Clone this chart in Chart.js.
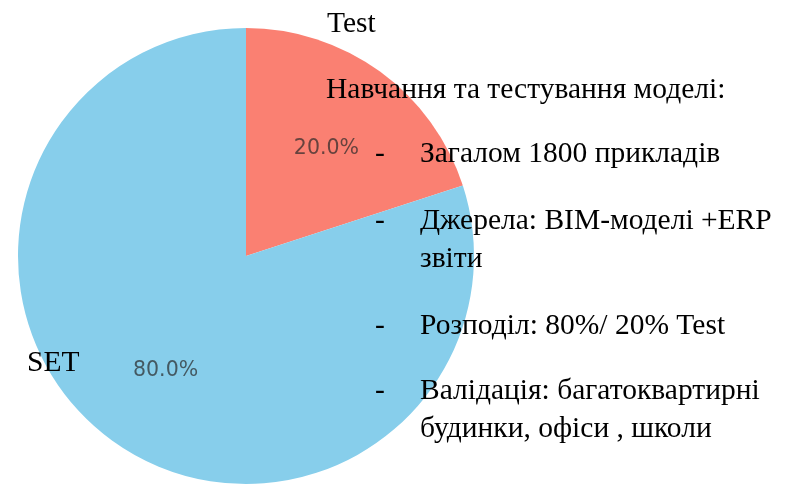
<!DOCTYPE html>
<html>
<head>
<meta charset="utf-8">
<script src="https://cdn.jsdelivr.net/npm/chart.js@4"></script>
<style>
  html, body { margin: 0; padding: 0; background: #fff; }
  #wrap { position: relative; width: 785px; height: 486px; overflow: hidden; }
  #wrap canvas { position: absolute; left: 0; top: 0; }
  .txt {
    position: absolute;
    font-family: 'Liberation Serif', 'Times New Roman', serif;
    font-size: 29.5px;
    line-height: 29.5px;
    color: #000;
    white-space: nowrap;
  }
</style>
</head>
<body>
<div id="wrap">
  <canvas id="pie" width="785" height="486"></canvas>
</div>
<script>
// дані діаграми
const categories = ['Test', 'SET'];
const shares = [20, 80];
const sliceColors = ['#FA8072', '#87CEEB'];

// текст праворуч
const heading = 'Навчання та тестування моделі:';
const bullets = [
  ['Загалом 1800 прикладів'],
  ['Джерела: BIM-моделі +ERP', 'звіти'],
  ['Розподіл: 80%/ 20% Test'],
  ['Валідація: багатоквартирні', 'будинки, офіси , школи']
];

const wrap = document.getElementById('wrap');

function addText(str, left, top) {
  const d = document.createElement('div');
  d.className = 'txt';
  d.style.left = left + 'px';
  d.style.top = top + 'px';
  d.textContent = str;
  wrap.appendChild(d);
}

// підписи категорій
const labelSpots = [[327, 8], [27, 347]];
categories.forEach((c, i) => addText(c, labelSpots[i][0], labelSpots[i][1]));

// блок тексту
addText(heading, 326, 74);
const bulletTops = [138, 205, 310, 375];
bullets.forEach((lines, i) => {
  addText('-', 375, bulletTops[i]);
  lines.forEach((l, j) => addText(l, 420, bulletTops[i] + j * 38));
});

// відсотки всередині секторів
const pctLabels = {
  id: 'pctLabels',
  afterDatasetsDraw(chart) {
    const ctx = chart.ctx;
    const meta = chart.getDatasetMeta(0);
    const total = shares.reduce((a, b) => a + b, 0);
    ctx.save();
    ctx.font = '20.5px "DejaVu Sans"';
    ctx.fillStyle = 'rgba(40,40,40,0.7)';
    ctx.textAlign = 'center';
    ctx.textBaseline = 'alphabetic';
    meta.data.forEach((arc, i) => {
      const p = arc.getProps(['x', 'y', 'startAngle', 'endAngle', 'outerRadius'], true);
      const mid = (p.startAngle + p.endAngle) / 2;
      const r = p.outerRadius * 0.6;
      const pct = (shares[i] / total * 100).toFixed(1) + '%';
      ctx.fillText(pct, p.x + Math.cos(mid) * r, p.y + Math.sin(mid) * r + 9);
    });
    ctx.restore();
  }
};

new Chart(document.getElementById('pie').getContext('2d'), {
  type: 'pie',
  data: {
    labels: categories,
    datasets: [{
      data: shares,
      backgroundColor: sliceColors,
      borderWidth: 0
    }]
  },
  options: {
    responsive: false,
    animation: false,
    layout: { padding: { left: 18, right: 311, top: 28, bottom: 2 } },
    plugins: {
      legend: { display: false },
      tooltip: { enabled: false }
    }
  },
  plugins: [pctLabels]
});
</script>
</body>
</html>
